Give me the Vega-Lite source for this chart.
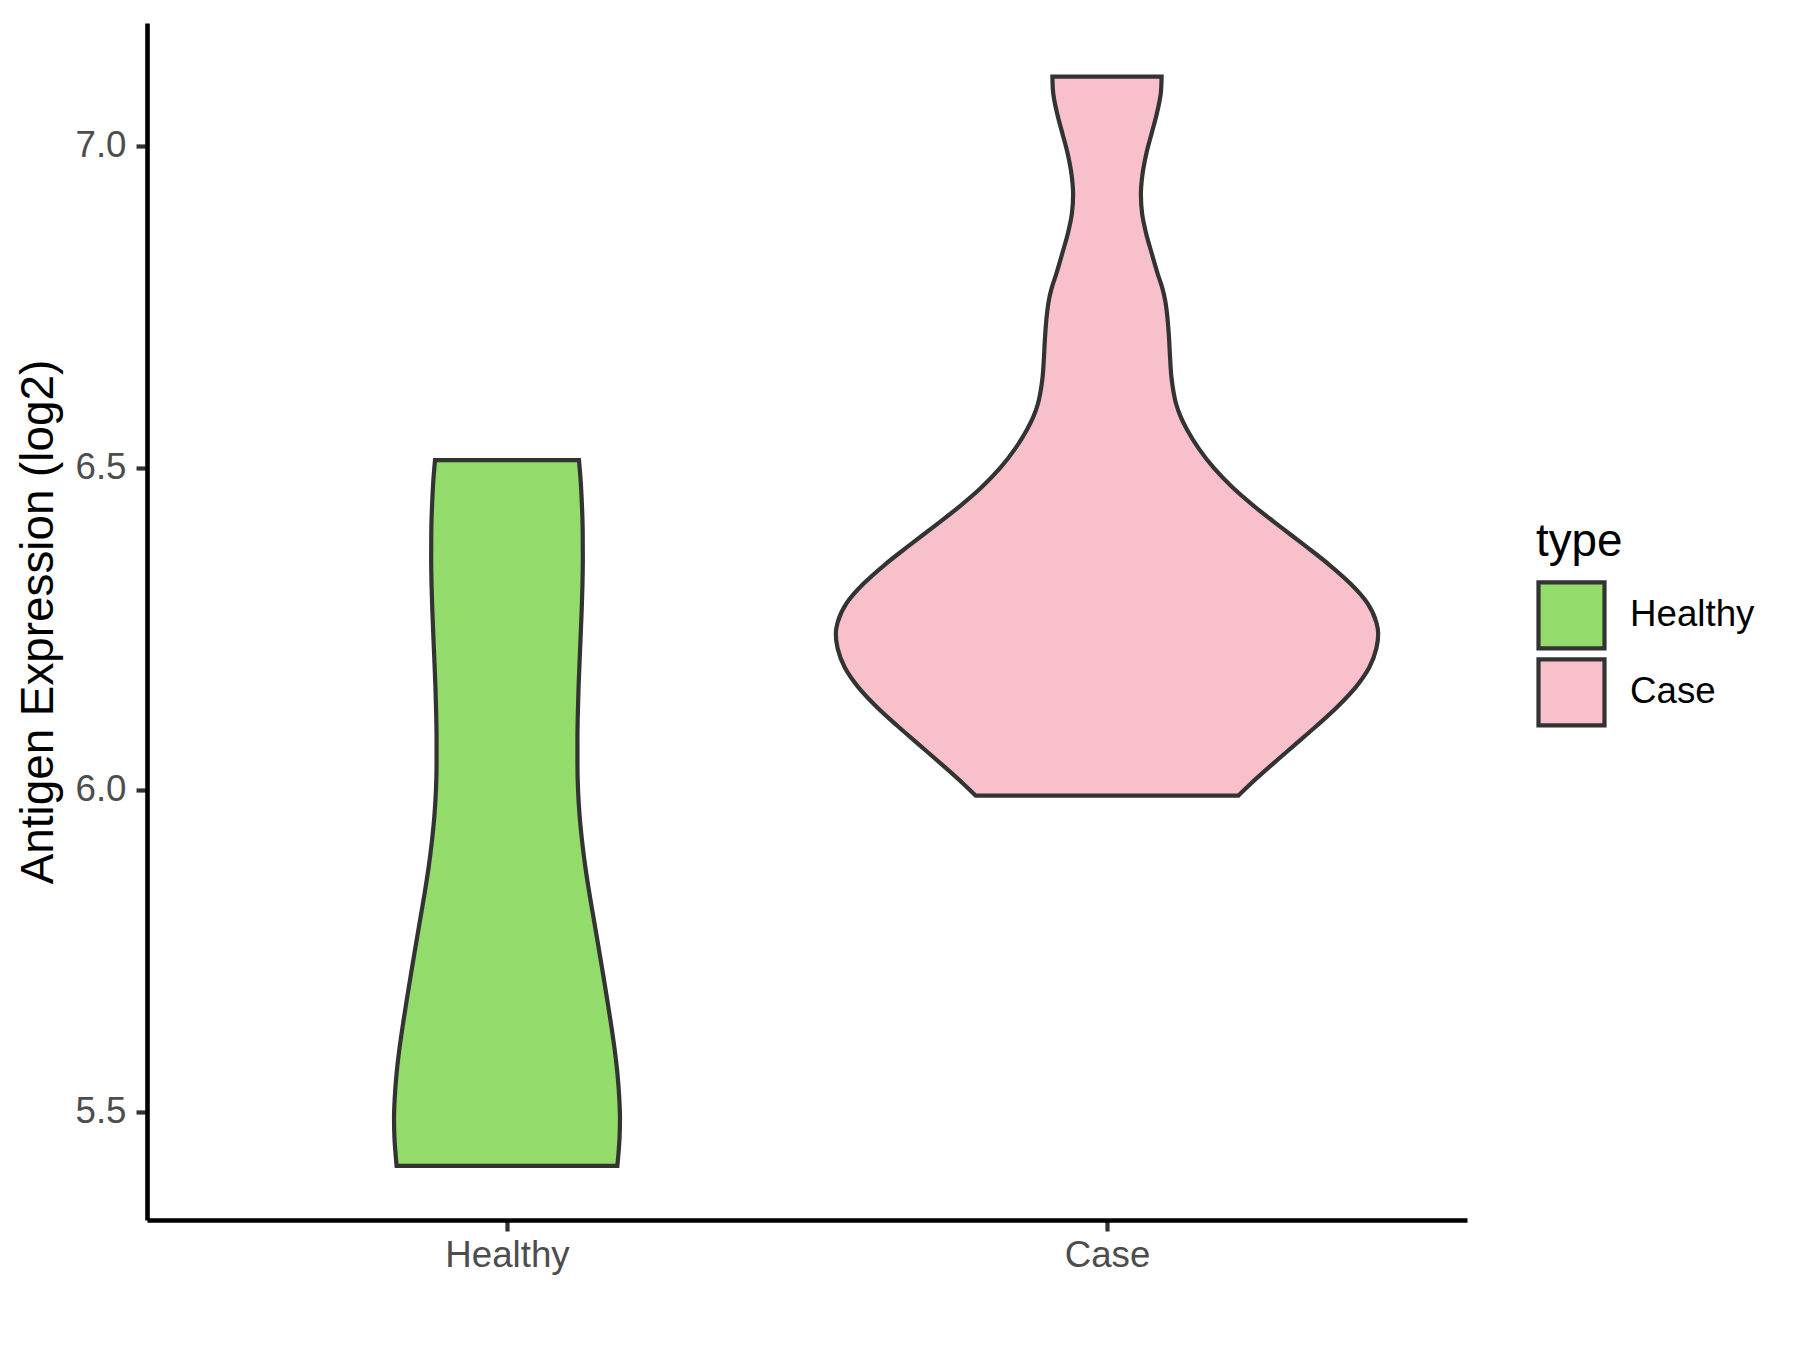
{
  "$schema": "https://vega.github.io/schema/vega-lite/v6.json",
  "autosize": {"type": "none"},
  "padding": {"left": 147, "top": 23, "right": 333, "bottom": 130},
  "width": 1320,
  "height": 1197,
  "background": "white",
  "config": {
    "font": "Liberation Sans",
    "view": {"stroke": null},
    "axis": {"grid": false}
  },
  "data": {
    "values": [
      {"type": "Healthy", "pos": 1, "y": 6.512, "w": 0.1200},
      {"type": "Healthy", "pos": 1, "y": 6.48, "w": 0.1228},
      {"type": "Healthy", "pos": 1, "y": 6.44, "w": 0.1250},
      {"type": "Healthy", "pos": 1, "y": 6.40, "w": 0.1262},
      {"type": "Healthy", "pos": 1, "y": 6.36, "w": 0.1264},
      {"type": "Healthy", "pos": 1, "y": 6.32, "w": 0.1258},
      {"type": "Healthy", "pos": 1, "y": 6.28, "w": 0.1245},
      {"type": "Healthy", "pos": 1, "y": 6.24, "w": 0.1228},
      {"type": "Healthy", "pos": 1, "y": 6.20, "w": 0.1210},
      {"type": "Healthy", "pos": 1, "y": 6.16, "w": 0.1193},
      {"type": "Healthy", "pos": 1, "y": 6.12, "w": 0.1181},
      {"type": "Healthy", "pos": 1, "y": 6.08, "w": 0.1174},
      {"type": "Healthy", "pos": 1, "y": 6.04, "w": 0.1174},
      {"type": "Healthy", "pos": 1, "y": 6.00, "w": 0.1184},
      {"type": "Healthy", "pos": 1, "y": 5.96, "w": 0.1210},
      {"type": "Healthy", "pos": 1, "y": 5.92, "w": 0.1252},
      {"type": "Healthy", "pos": 1, "y": 5.88, "w": 0.1306},
      {"type": "Healthy", "pos": 1, "y": 5.84, "w": 0.1372},
      {"type": "Healthy", "pos": 1, "y": 5.80, "w": 0.1445},
      {"type": "Healthy", "pos": 1, "y": 5.76, "w": 0.1518},
      {"type": "Healthy", "pos": 1, "y": 5.72, "w": 0.1590},
      {"type": "Healthy", "pos": 1, "y": 5.68, "w": 0.1660},
      {"type": "Healthy", "pos": 1, "y": 5.64, "w": 0.1728},
      {"type": "Healthy", "pos": 1, "y": 5.60, "w": 0.1790},
      {"type": "Healthy", "pos": 1, "y": 5.56, "w": 0.1840},
      {"type": "Healthy", "pos": 1, "y": 5.52, "w": 0.1872},
      {"type": "Healthy", "pos": 1, "y": 5.49, "w": 0.1883},
      {"type": "Healthy", "pos": 1, "y": 5.46, "w": 0.1876},
      {"type": "Healthy", "pos": 1, "y": 5.44, "w": 0.1862},
      {"type": "Healthy", "pos": 1, "y": 5.416, "w": 0.1840},
      {"type": "Case", "pos": 2, "y": 7.1076, "w": 0.0910},
      {"type": "Case", "pos": 2, "y": 7.085, "w": 0.0900},
      {"type": "Case", "pos": 2, "y": 7.05, "w": 0.0830},
      {"type": "Case", "pos": 2, "y": 7.02, "w": 0.0745},
      {"type": "Case", "pos": 2, "y": 6.99, "w": 0.0660},
      {"type": "Case", "pos": 2, "y": 6.955, "w": 0.0590},
      {"type": "Case", "pos": 2, "y": 6.925, "w": 0.0565},
      {"type": "Case", "pos": 2, "y": 6.895, "w": 0.0585},
      {"type": "Case", "pos": 2, "y": 6.865, "w": 0.0650},
      {"type": "Case", "pos": 2, "y": 6.835, "w": 0.0740},
      {"type": "Case", "pos": 2, "y": 6.80, "w": 0.0850},
      {"type": "Case", "pos": 2, "y": 6.78, "w": 0.0920},
      {"type": "Case", "pos": 2, "y": 6.76, "w": 0.0970},
      {"type": "Case", "pos": 2, "y": 6.74, "w": 0.1000},
      {"type": "Case", "pos": 2, "y": 6.72, "w": 0.1020},
      {"type": "Case", "pos": 2, "y": 6.70, "w": 0.1035},
      {"type": "Case", "pos": 2, "y": 6.67, "w": 0.1052},
      {"type": "Case", "pos": 2, "y": 6.64, "w": 0.1075},
      {"type": "Case", "pos": 2, "y": 6.62, "w": 0.1105},
      {"type": "Case", "pos": 2, "y": 6.60, "w": 0.1150},
      {"type": "Case", "pos": 2, "y": 6.58, "w": 0.1225},
      {"type": "Case", "pos": 2, "y": 6.56, "w": 0.1330},
      {"type": "Case", "pos": 2, "y": 6.53, "w": 0.1530},
      {"type": "Case", "pos": 2, "y": 6.50, "w": 0.1780},
      {"type": "Case", "pos": 2, "y": 6.47, "w": 0.2090},
      {"type": "Case", "pos": 2, "y": 6.44, "w": 0.2460},
      {"type": "Case", "pos": 2, "y": 6.41, "w": 0.2870},
      {"type": "Case", "pos": 2, "y": 6.38, "w": 0.3290},
      {"type": "Case", "pos": 2, "y": 6.35, "w": 0.3700},
      {"type": "Case", "pos": 2, "y": 6.32, "w": 0.4060},
      {"type": "Case", "pos": 2, "y": 6.29, "w": 0.4340},
      {"type": "Case", "pos": 2, "y": 6.26, "w": 0.4490},
      {"type": "Case", "pos": 2, "y": 6.243, "w": 0.4520},
      {"type": "Case", "pos": 2, "y": 6.22, "w": 0.4490},
      {"type": "Case", "pos": 2, "y": 6.19, "w": 0.4370},
      {"type": "Case", "pos": 2, "y": 6.16, "w": 0.4150},
      {"type": "Case", "pos": 2, "y": 6.13, "w": 0.3850},
      {"type": "Case", "pos": 2, "y": 6.10, "w": 0.3500},
      {"type": "Case", "pos": 2, "y": 6.07, "w": 0.3130},
      {"type": "Case", "pos": 2, "y": 6.04, "w": 0.2760},
      {"type": "Case", "pos": 2, "y": 6.01, "w": 0.2400},
      {"type": "Case", "pos": 2, "y": 5.991, "w": 0.2187}
    ]
  },
  "transform": [
    {"calculate": "datum.pos - datum.w", "as": "left"},
    {"calculate": "datum.pos + datum.w", "as": "right"}
  ],
  "mark": {
    "type": "area",
    "orient": "horizontal",
    "interpolate": "monotone",
    "stroke": "#333333",
    "strokeWidth": 4.2,
    "strokeJoin": "miter",
    "fillOpacity": 1
  },
  "encoding": {
    "y": {
      "field": "y",
      "type": "quantitative",
      "scale": {"domain": [5.332, 7.191], "nice": false, "zero": false},
      "axis": {
        "values": [5.5, 6.0, 6.5, 7.0],
        "format": ".1f",
        "title": "Antigen Expression (log2)",
        "titleFontSize": 45.8,
        "titleFontWeight": "normal",
        "titleColor": "black",
        "titlePadding": 12,
        "labelFontSize": 36.7,
        "labelColor": "#4D4D4D",
        "labelPadding": 10,
        "tickSize": 11,
        "tickWidth": 4.2,
        "tickColor": "#333333",
        "domainColor": "black",
        "domainWidth": 4.6
      }
    },
    "x": {
      "field": "left",
      "type": "quantitative",
      "scale": {"domain": [0.4, 2.6], "nice": false, "zero": false},
      "axis": {
        "values": [1, 2],
        "labelExpr": "datum.value == 1 ? 'Healthy' : 'Case'",
        "title": null,
        "labelFontSize": 36.7,
        "labelColor": "#4D4D4D",
        "labelPadding": 6,
        "tickSize": 11,
        "tickWidth": 4.2,
        "tickColor": "#333333",
        "domainColor": "black",
        "domainWidth": 4.6
      }
    },
    "x2": {"field": "right"},
    "fill": {
      "field": "type",
      "type": "nominal",
      "scale": {"domain": ["Healthy", "Case"], "range": ["#93DB6A", "#F7C0CB"]},
      "legend": {
        "title": "type",
        "orient": "none",
        "legendX": 1389,
        "legendY": 497,
        "padding": 0,
        "titleFontSize": 45.8,
        "titleFontWeight": "normal",
        "titleColor": "black",
        "titlePadding": 14,
        "labelFontSize": 36.7,
        "labelColor": "black",
        "labelOffset": 23,
        "symbolType": "square",
        "symbolSize": 4356,
        "symbolStrokeColor": "#333333",
        "symbolStrokeWidth": 4.2,
        "symbolOpacity": 1,
        "rowPadding": -10
      }
    },
    "detail": {"field": "type"}
  }
}
